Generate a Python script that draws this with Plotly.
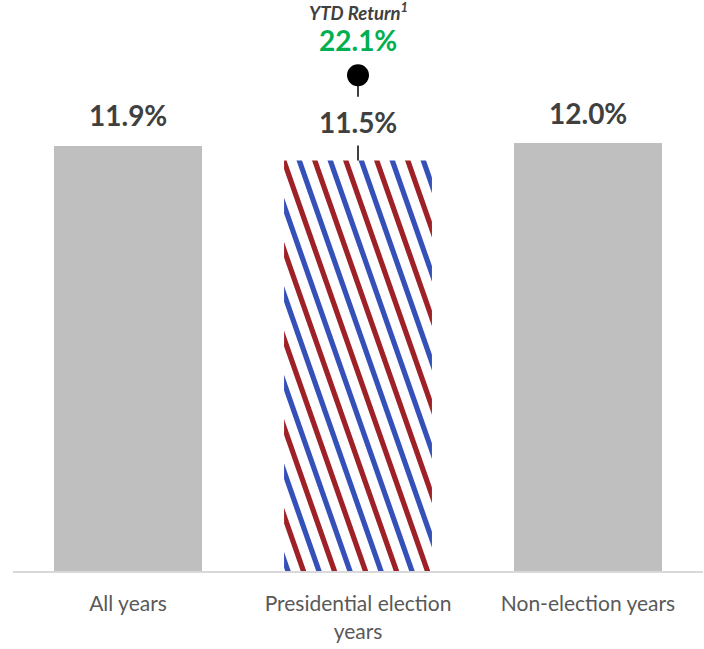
import base64
import plotly.graph_objects as go

# ---- data ----
categories = ["All years", "Presidential election<br>years", "Non-election years"]
avg_returns = [11.9, 11.5, 12.0]
value_labels = ["11.9%", "11.5%", "12.0%"]
ytd_label = "YTD Return<sup>1</sup>"
ytd_return = [22.1]
striped_index = 1

# ---- layout constants ----
W, H = 704, 649
ML, MR, MT, MB = 13, 1, 0, 78
Y_MAX = 16
BAR_W = 0.643
GRAY = "#bfbfbf"
DARK = "#404040"
RED = "#9e2127"
BLUE = "#3550b8"

plot_w = W - ML - MR
plot_h = H - MT - MB
px_per_unit = plot_h / Y_MAX
px_per_cat = plot_w / len(categories)

x_vals = list(range(len(categories)))
colors = [GRAY if i != striped_index else "white" for i in x_vals]

fig = go.Figure()
fig.add_trace(go.Bar(
    x=x_vals, y=avg_returns, width=BAR_W,
    marker=dict(color=colors, line=dict(width=0)),
    hoverinfo="skip", showlegend=False,
))

# striped fill for the election-year bar (svg pattern stretched over the bar)
sv = avg_returns[striped_index]
bw_px = BAR_W * px_per_cat
bh_px = sv * px_per_unit
slope = 0.35
period = 31.0
lines = []
k = -20
while True:
    base = -2 + k * period
    if base > bw_px + 5:
        break
    for off, col in ((0, RED), (period / 2, BLUE)):
        x0 = base + off
        lines.append(
            f'<line x1="{x0:.2f}" y1="-5" x2="{x0 + slope * (bh_px + 10):.2f}" y2="{bh_px + 5:.2f}" '
            f'stroke="{col}" stroke-width="5.2"/>'
        )
    k += 1
svg = (
    f'<svg xmlns="http://www.w3.org/2000/svg" width="{bw_px:.2f}" height="{bh_px:.2f}" '
    f'viewBox="0 0 {bw_px:.2f} {bh_px:.2f}" preserveAspectRatio="none">'
    f'<rect x="0" y="0" width="{bw_px:.2f}" height="{bh_px:.2f}" fill="white"/>'
    + "".join(lines) + "</svg>"
)
src = "data:image/svg+xml;base64," + base64.b64encode(svg.encode()).decode()
fig.add_layout_image(dict(
    source=src, xref="x", yref="y",
    x=striped_index - BAR_W / 2, y=sv, sizex=BAR_W, sizey=sv,
    xanchor="left", yanchor="top", sizing="stretch", layer="above",
))

# value labels
label_shift = [31, 39, 30]
for i, (v, t) in enumerate(zip(avg_returns, value_labels)):
    fig.add_annotation(
        x=i, y=v, text=f"<b>{t}</b>", showarrow=False, yshift=label_shift[i],
        yanchor="middle", font=dict(family="Lato", size=28, color=DARK),
    )

# YTD marker: dot with connector
dot_y = sv + 2.39
fig.add_trace(go.Scatter(
    x=[striped_index], y=[dot_y], mode="markers",
    marker=dict(size=22, color="black"), cliponaxis=False,
    hoverinfo="skip", showlegend=False,
))
fig.add_shape(type="line", x0=striped_index, x1=striped_index,
              y0=dot_y, y1=dot_y - 21.5 / px_per_unit,
              line=dict(color="black", width=1.5), layer="below")
fig.add_shape(type="line", x0=striped_index, x1=striped_index,
              y0=sv, y1=sv + 15 / px_per_unit,
              line=dict(color="black", width=1.5), layer="above")
fig.add_annotation(
    x=striped_index, y=dot_y, yshift=35, text=f"<b>{ytd_return[0]:.1f}%</b>",
    showarrow=False, yanchor="middle",
    font=dict(family="Lato", size=28, color="#00b050"),
)
fig.add_annotation(
    x=striped_index, y=dot_y, yshift=64, text=f"<b><i>{ytd_label}</i></b>",
    showarrow=False, yanchor="middle",
    font=dict(family="Lato", size=18.5, color=DARK),
)

fig.update_layout(
    width=W, height=H,
    margin=dict(l=ML, r=MR, t=MT, b=MB, pad=0),
    paper_bgcolor="white", plot_bgcolor="white",
    xaxis=dict(
        range=[-0.5, len(categories) - 0.5], tickvals=x_vals, ticktext=categories,
        showline=True, linecolor="#d9d9d9", linewidth=2, showgrid=False,
        zeroline=False, ticks="", ticklabelstandoff=13,
        tickfont=dict(family="Lato", size=21, color="#595959"),
    ),
    yaxis=dict(range=[0, Y_MAX], visible=False, showgrid=False, zeroline=False),
    bargap=0,
)

fig.write_html("out.html")
